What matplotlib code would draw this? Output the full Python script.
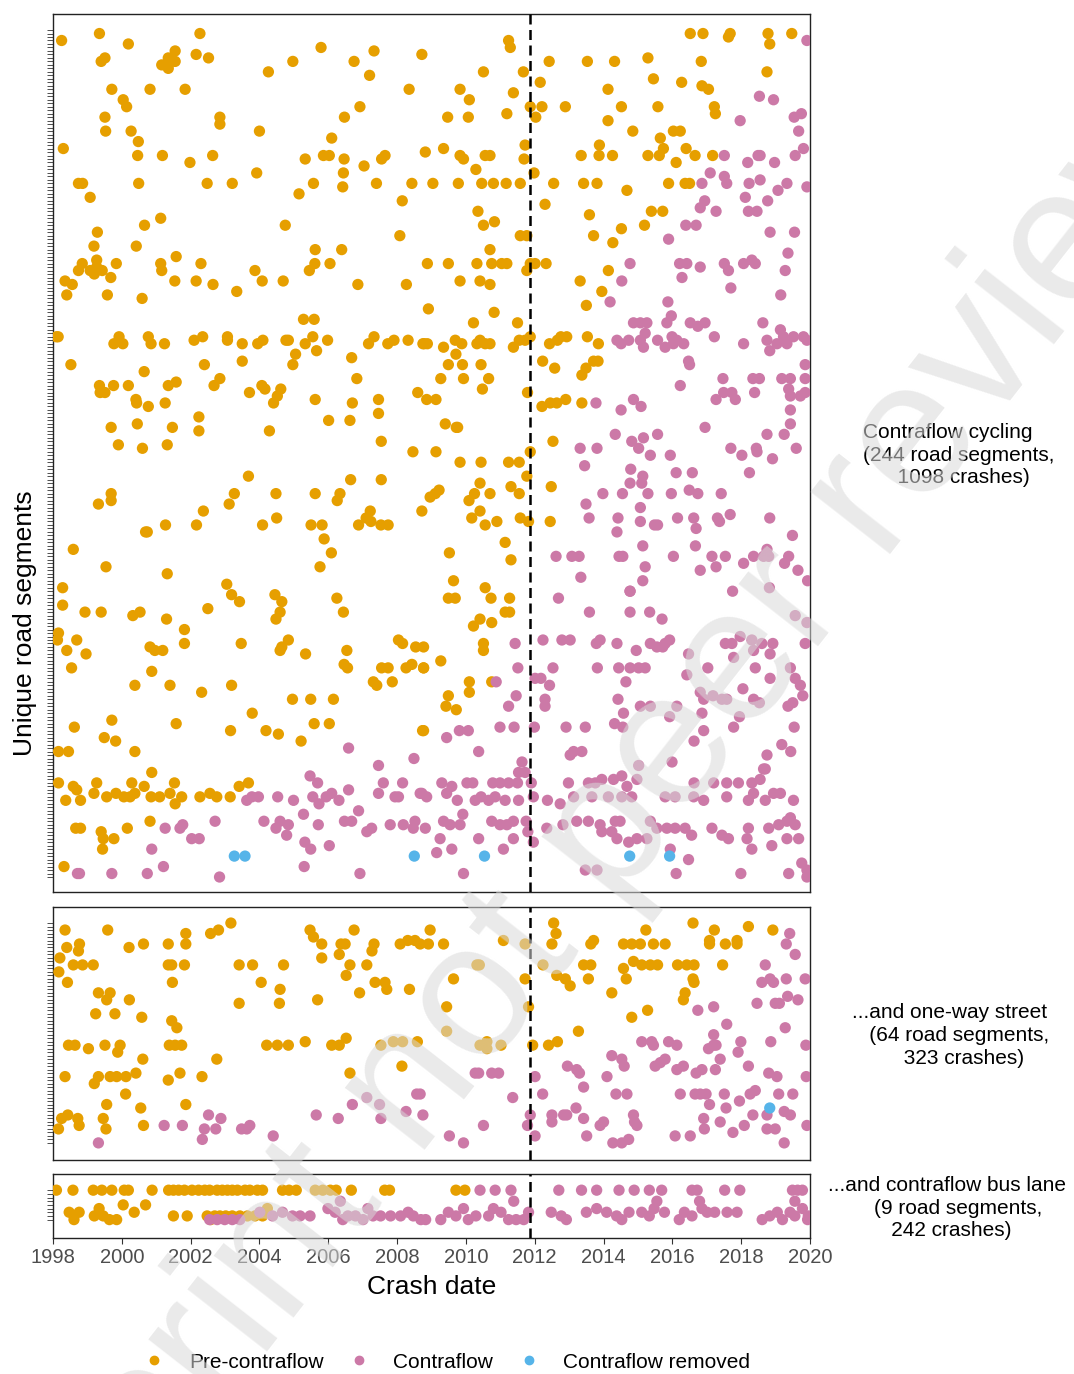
import matplotlib
matplotlib.use("Agg")
import matplotlib.pyplot as plt
from matplotlib.lines import Line2D

plt.rcParams['font.family'] = ['Liberation Sans', 'DejaVu Sans']

ORANGE = '#E69F00'
PINK = '#CC79A7'
BLUE = '#56B4E9'

change_date = 2011.85
year_ticks = list(range(1998, 2021, 2))

# (crash date in decimal years, road segment number)
top_pre = [
    (1998.25,241),(1999.35,243),(2000.19,240),(2002.27,243),(1999.40,235),(1999.51,236),(2001.16,234),(2001.35,236),
    (2001.45,235),(2001.55,238),(2001.35,233),(2001.55,235),(2002.16,237),(2002.52,236),(2004.26,232),(2004.97,235),
    (2005.79,239),(2006.75,235),(2007.33,238),(2007.20,231),(2008.35,227),(1999.71,227),(2000.82,227),(2001.84,227),
    (2000.04,224),(2000.14,222),(2002.85,219),(2002.85,217),(1999.51,219),(1999.53,215),(2000.27,215),(2004.00,215),
    (2006.47,219),(2006.92,222),(2006.10,213),(1998.30,210),(2000.48,212),(2000.46,208),(2001.18,208),(2001.98,206),
    (2002.64,208),(2005.33,207),(2005.86,208),(2006.03,208),(2006.46,207),(2006.44,203),(2007.04,205),(2007.55,207),
    (2007.65,208),(1998.74,200),(1998.86,200),(1999.08,196),(2000.49,200),(2002.48,200),(2003.21,200),(2003.92,203),
    (2005.15,197),(2005.57,200),(2006.42,199),(2007.40,200),(2008.43,200),(2008.15,195),(1999.29,186),(1999.19,182),
    (2000.66,188),(2001.13,190),(2000.42,182),(2004.75,188),(2008.08,185),(2005.62,181),(2006.39,181),(1998.85,177),
    (1998.74,175),(1999.08,175),(1999.20,174),(1999.27,178),(1999.43,175),(1999.27,176),(1999.84,177),(1999.68,173),
    (1998.35,172),(1998.56,171),(1998.40,168),(1999.58,168),(2000.59,167),(2001.13,177),(2001.16,175),(2001.58,179),
    (2001.54,172),(2002.16,172),(2002.30,177),(2002.65,171),(2003.34,169),(2003.87,175),(2004.08,172),(2004.69,172),
    (2005.45,175),(2005.61,177),(2006.05,177),(2006.86,171),(2008.27,171),
    (2008.72,237),(2011.24,241),(2011.29,239),(2010.51,232),(2011.67,232),(2012.42,235),(2013.53,235),(2014.32,235),
    (2015.29,236),(2016.84,235),(2016.52,243),(2016.89,243),(2017.68,243),(2017.63,242),(2018.78,243),(2018.83,240),
    (2019.47,243),(2018.75,232),(2012.16,229),(2009.83,227),(2011.38,226),(2010.10,224),(2010.07,219),(2009.47,219),
    (2011.19,220),(2011.87,222),(2012.21,222),(2012.03,219),(2012.89,222),(2014.13,227),(2014.52,222),(2015.45,230),
    (2015.58,222),(2016.27,229),(2016.86,228),(2017.05,227),(2017.22,222),(2017.25,220),(2014.13,218),(2014.85,215),
    (2016.03,215),(2016.23,215),(2015.65,213),(2015.74,210),(2008.82,209),(2009.35,210),(2009.83,208),(2009.93,207),
    (2010.56,208),(2010.70,208),(2010.29,204),(2011.72,211),(2011.69,207),(2011.98,203),(2013.35,208),(2013.88,211),
    (2013.87,208),(2014.26,208),(2015.29,208),(2015.62,208),(2016.40,210),(2016.11,206),(2016.66,208),(2017.17,208),
    (2009.04,200),(2009.78,200),(2010.46,200),(2010.80,200),(2011.17,200),(2011.58,200),(2012.55,200),(2013.42,200),
    (2013.81,200),(2014.68,198),(2015.89,200),(2016.37,200),(2016.50,200),(2012.30,194),(2010.35,192),(2010.51,188),
    (2010.83,189),(2013.59,191),(2013.71,185),(2014.27,183),(2014.52,187),(2015.19,188),(2015.39,192),(2015.72,192),
    (2011.58,185),(2011.77,185),(2010.70,181),(2008.88,177),(2009.49,177),(2010.32,177),(2010.75,177),(2011.04,177),
    (2011.19,177),(2011.87,177),(2012.01,177),(2012.33,177),(2011.77,175),(2009.83,172),(2010.41,172),(2010.70,171),
    (2013.32,172),(2014.14,175),(2013.95,169),
    (2005.28,161),(2005.59,161),(1998.15,156),(1998.10,156),(1999.77,154),(1999.92,156),(2000.03,154),(2000.77,156),
    (2000.85,154),(2001.24,154),(2002.10,155),(2002.35,156),(2003.07,156),(2003.07,155),(2003.50,154),(2003.95,154),
    (2004.10,155),(2004.77,155),(2004.84,155),(2005.33,154),(2005.55,156),(2005.66,152),(2005.98,155),(2005.05,151),
    (2004.97,148),(2007.17,154),(2007.33,156),(2007.73,154),(2007.91,155),(2008.32,155),(2008.75,154),(1998.52,148),
    (2000.65,146),(2002.40,148),(2003.50,149),(2006.68,150),(2006.83,144),(1999.35,142),(1999.37,140),(1999.51,140),
    (1999.76,142),(2000.19,142),(2000.41,138),(2000.43,137),(2000.77,136),(2001.26,137),(2001.35,142),(2001.58,143),
    (2002.68,142),(2002.85,144),(2003.71,140),(2004.07,142),(2004.16,141),(2004.41,137),(2004.52,139),(2004.62,141),
    (2005.62,138),(2006.70,137),(2007.46,138),(2007.46,134),(2008.60,140),(1999.69,130),(2000.45,131),(2001.47,130),
    (2002.24,133),(2002.24,129),(2004.29,129),(2006.01,132),(2006.63,132),(1999.90,125),(2000.60,124),(2001.32,125),
    (2007.54,126),(2008.46,123),(2003.68,116),(2006.65,115),(2007.54,115),(1999.32,108),(1999.69,111),(1999.69,109),
    (2002.37,106),(2003.27,111),(2003.12,108),(2004.48,111),(2005.62,111),(2006.34,111),(2006.26,109),(2000.69,100),
    (2000.74,100),(2001.27,102),(2002.17,102),(2004.09,102),(2004.50,104),(2005.50,102),(2005.82,102),(2005.88,98),
    (2006.09,94),(2005.76,90),(2006.88,102),(2007.10,104),(2007.22,106),(2007.24,103),(2007.53,102),(2007.74,102),
    (1998.59,95),(1999.54,90),(2001.32,88),(1998.28,84),(2003.05,85),
    (2008.91,164),(2010.82,163),(2010.22,160),(2011.50,160),(2013.50,165),(2008.79,154),(2008.88,154),(2009.35,153),
    (2009.69,155),(2009.88,154),(2009.71,151),(2010.32,154),(2010.41,155),(2010.56,154),(2010.70,154),(2011.38,153),
    (2011.55,155),(2011.72,155),(2011.87,156),(2012.43,154),(2012.66,155),(2012.76,156),(2012.93,156),(2013.53,156),
    (2013.85,154),(2009.49,148),(2009.90,148),(2010.44,148),(2009.27,144),(2009.93,144),(2010.66,144),(2010.48,141),
    (2012.23,149),(2012.58,147),(2013.37,145),(2013.49,147),(2013.71,149),(2013.84,149),(2008.86,138),(2009.13,138),
    (2011.79,140),(2012.21,136),(2012.45,137),(2012.64,137),(2012.90,138),(2013.37,137),(2009.40,131),(2009.76,130),
    (2009.72,130),(2009.13,123),(2009.83,120),(2010.44,120),(2011.24,120),(2011.55,120),(2011.87,123),(2011.77,116),
    (2012.53,126),(2012.48,113),(2008.96,110),(2009.11,111),(2009.22,112),(2008.72,106),(2010.41,114),(2010.25,111),
    (2010.09,109),(2010.70,111),(2011.31,113),(2011.55,111),(2010.41,106),(2010.17,104),(2010.56,102),(2010.90,103),
    (2011.58,104),(2011.82,103),(2012.45,103),(2011.14,97),(2011.31,92),(2009.52,94),(2009.64,86),(2010.56,84),
    (1998.28,79),(2003.19,82),(2003.42,80),(2004.45,82),(2004.65,80),(2004.60,77),(2004.48,75),(2006.25,81),
    (2006.44,77),(1998.93,77),(1999.40,77),(2000.32,76),(2000.53,77),(2001.30,75),(2001.82,72),(2001.82,68),
    (2002.50,78),(1998.16,71),(1998.13,69),(1998.69,69),(1998.40,66),(1998.96,65),(1998.54,61),(2000.82,67),
    (2000.96,66),(2001.19,66),(2000.87,60),(2000.38,56),(2001.40,56),(2002.32,54),(2003.47,68),(2003.19,56),
    (2004.60,66),(2004.84,69),(2004.65,67),(2005.34,65),(2006.54,66),(2006.46,62),(2006.56,61),(2008.04,69),
    (2008.16,68),(2008.54,67),(2007.55,61),(2007.74,61),(2007.86,57),(2007.31,57),(2007.41,56),(2008.26,61),
    (2008.43,62),(2008.77,61),(2004.96,52),(2005.49,52),(2006.15,52),(2003.79,48),(2004.19,43),(2004.55,42),
    (2005.21,40),(2005.59,45),(2006.03,45),(2003.16,43),(2008.74,43),(1998.62,44),(1999.71,46),(1999.49,41),
    (1999.82,40),(2001.58,45),(1998.16,37),(1998.45,37),(2000.38,37),(2000.87,31),(1998.16,28),(1998.59,27),
    (1998.69,26),(1999.27,28),(1999.19,25),(2000.29,28),(2000.65,27),(2001.53,28),(2003.68,28),(2003.41,27),
    (1998.37,23),(1998.80,23),(1999.56,24),(1999.83,25),(2000.06,24),(2000.24,24),(2000.38,25),(2000.85,24),
    (2001.10,24),(2001.40,25),(2001.55,22),(2001.74,24),(2002.27,24),(2002.56,25),(2002.76,24),(2003.15,24),
    (1998.66,15),(1998.80,15),(1999.40,14),(1999.46,12),(1999.77,12),(2000.16,15),(1999.44,9),(2000.82,17),
    (1998.32,4),
    (2009.49,81),(2009.69,81),(2010.73,81),(2011.27,81),(2011.14,77),(2011.27,77),(2010.75,74),(2010.41,75),
    (2010.22,73),(2010.51,68),(2010.51,66),(2008.77,67),(2008.77,61),(2009.27,63),(2010.10,57),(2010.10,54),
    (2010.75,57),(2009.49,53),(2009.42,50),(2009.72,49),(2008.77,43),
]

top_contra = [
    (2019.91,241),(2018.53,225),(2018.94,224),(2017.97,218),(2019.75,220),(2019.54,219),(2019.67,215),(2019.81,210),
    (2019.57,208),(2017.51,208),(2018.19,206),(2018.49,208),(2018.55,208),(2018.97,206),(2017.10,203),(2016.86,200),
    (2017.51,202),(2017.58,200),(2018.23,200),(2018.55,201),(2019.07,198),(2019.33,200),(2019.91,199),(2018.12,196),
    (2018.77,195),(2018.21,192),(2018.46,192),(2016.81,193),(2016.94,195),(2017.27,192),(2016.39,188),(2016.69,188),
    (2015.89,184),(2018.84,186),(2019.55,186),(2019.36,180),(2019.28,175),(2014.77,177),(2014.53,172),(2016.21,177),
    (2016.42,177),(2016.81,176),(2016.28,173),(2017.51,177),(2017.63,175),(2018.07,177),(2018.31,178),(2018.41,177),
    (2017.70,170),(2019.15,168),
    (2014.19,166),(2015.87,166),(2014.87,160),(2015.07,160),(2015.26,160),(2015.21,157),(2015.84,160),(2015.97,162),
    (2016.52,160),(2016.74,159),(2016.95,160),(2018.63,160),(2014.39,155),(2014.51,154),(2014.73,155),(2015.07,155),
    (2015.16,153),(2015.57,155),(2015.79,153),(2015.99,156),(2016.13,155),(2016.33,154),(2016.03,154),(2017.22,156),
    (2018.07,154),(2018.75,155),(2018.83,152),(2019.14,158),(2019.04,154),(2019.23,156),(2019.33,154),(2019.52,156),
    (2019.81,156),(2019.91,155),(2016.47,149),(2016.50,148),(2019.86,148),(2016.23,142),(2017.47,144),(2018.34,144),
    (2018.53,144),(2019.18,144),(2019.43,144),(2019.86,144),(2017.27,138),(2017.49,140),(2017.73,140),(2017.83,138),
    (2018.39,140),(2019.38,141),(2019.43,139),(2019.72,139),(2019.86,140),(2013.78,137),(2014.51,135),(2014.87,138),
    (2015.09,136),(2019.43,135),(2019.43,131),(2016.95,130),(2018.75,128),(2019.25,128),(2019.60,124),(2014.34,128),
    (2014.82,126),(2015.16,127),(2015.57,128),(2015.02,124),(2015.36,122),(2015.94,122),(2013.32,124),(2013.81,124),
    (2013.45,119),(2017.70,124),(2018.02,122),(2018.44,124),(2018.46,123),(2018.91,121),(2018.24,117),(2014.79,118),
    (2015.14,116),(2015.11,114),(2014.77,114),(2016.11,117),(2016.58,117),(2013.49,108),(2013.98,111),(2014.55,111),
    (2015.29,111),(2015.97,111),(2016.49,112),(2016.74,111),(2017.42,111),(2013.58,104),(2014.42,104),(2014.39,100),
    (2015.07,107),(2015.07,103),(2015.48,102),(2015.57,102),(2016.15,104),(2016.62,104),(2016.69,101),(2017.31,104),
    (2017.37,103),(2017.68,105),(2018.83,104),(2019.49,99),(2015.14,96),(2016.67,96),(2012.62,93),(2013.08,93),
    (2013.29,93),(2014.45,93),(2014.56,93),(2015.21,90),(2016.03,93),(2017.15,93),(2017.27,90),(2017.54,93),
    (2016.81,89),(2018.07,91),(2018.36,93),(2018.65,93),(2018.75,95),(2018.80,93),(2019.26,91),(2019.38,93),
    (2019.65,89),(2019.93,86),(2013.34,87),(2015.14,86),(2014.77,83),(2017.75,83),(2018.82,84),
    (2003.63,23),(2003.78,24),(2003.97,24),(2004.53,24),(2004.99,23),(2005.47,30),(2005.69,28),(2005.55,24),
    (2005.73,22),(2005.94,24),(2006.10,25),(2006.31,23),(2006.59,26),(2006.59,38),(2007.46,33),(2007.60,28),
    (2007.46,25),(2008.16,28),(2007.94,24),(2008.04,24),(2008.49,35),(2008.72,25),(2006.88,20),(2001.26,15),
    (2001.77,16),(2001.69,15),(2002.03,12),(2002.25,12),(2002.71,17),(2004.13,17),(2004.48,15),(2004.60,17),
    (2004.84,16),(2004.79,13),(2005.28,19),(2005.71,16),(2005.32,11),(2005.49,9),(2006.03,10),(2006.47,17),
    (2006.68,17),(2007.12,14),(2007.26,15),(2007.80,16),(2008.18,16),(2008.47,15),(2008.52,17),(2000.87,9),
    (2001.21,4),(2000.74,2),(1999.71,2),(1998.71,2),(1998.77,2),(2002.84,1),(2005.30,4),(2006.92,2),
    (2012.69,81),(2013.59,77),(2014.77,77),(2014.77,83),(2015.34,77),(2015.70,75),(2011.43,68),(2012.24,69),
    (2012.79,69),(2013.03,69),(2013.79,68),(2013.90,69),(2014.39,68),(2014.95,66),(2015.36,68),(2015.55,67),
    (2015.72,67),(2015.92,69),(2015.79,68),(2016.47,65),(2017.03,61),(2016.42,59),(2017.78,64),(2017.97,70),
    (2017.54,68),(2017.73,68),(2018.31,69),(2018.36,66),(2018.60,68),(2018.84,65),(2018.92,68),(2018.41,61),
    (2018.84,58),(2019.43,61),(2019.57,58),(2019.72,56),(2019.79,53),(2019.50,51),(2019.36,50),(2019.91,74),
    (2019.57,76),(2019.86,68),(2011.51,61),(2012.53,61),(2013.82,61),(2014.44,61),(2014.77,61),(2015.02,61),
    (2015.21,61),(2010.88,57),(2012.01,58),(2012.18,58),(2012.43,56),(2014.65,57),(2011.46,53),(2011.24,50),
    (2012.30,52),(2012.30,50),(2014.42,52),(2014.58,48),(2015.07,50),(2015.36,50),(2016.13,50),(2015.92,47),
    (2014.32,45),(2014.56,44),(2016.81,54),(2016.91,52),(2017.18,53),(2017.44,52),(2017.58,52),(2018.05,55),
    (2018.36,52),(2018.53,51),(2017.95,47),(2017.78,44),(2016.86,48),(2016.91,43),(2019.54,44),(2019.18,39),
    (2019.44,37),(2018.75,36),(2018.70,32),(2010.99,44),(2011.40,44),(2011.99,44),(2012.91,44),(2013.47,44),
    (2009.44,41),(2009.81,43),(2010.07,43),(2010.37,37),(2013.03,36),(2013.13,37),(2013.37,37),(2011.63,34),
    (2011.53,31),(2011.72,31),(2015.02,33),(2015.99,34),(2016.63,40),
    (2009.30,28),(2009.59,27),(2010.03,28),(2010.20,28),(2010.78,28),(2010.99,28),(2011.24,28),(2011.50,28),
    (2011.90,28),(2012.98,28),(2013.56,28),(2013.76,28),(2013.95,29),(2014.29,29),(2014.53,30),(2014.68,27),
    (2014.97,29),(2016.63,28),(2017.20,28),(2017.58,28),(2017.92,28),(2018.31,28),(2018.55,29),(2018.65,32),
    (2008.67,25),(2008.86,24),(2009.44,25),(2009.75,23),(2010.27,23),(2010.44,24),(2010.66,23),(2010.85,24),
    (2011.14,23),(2011.53,23),(2011.96,24),(2012.37,23),(2012.74,22),(2013.13,24),(2013.66,24),(2014.14,24),
    (2014.53,24),(2014.82,24),(2015.79,24),(2016.08,24),(2016.62,24),(2016.91,23),(2017.58,24),(2018.21,23),
    (2018.36,25),(2018.70,23),(2018.94,25),(2019.14,25),(2019.52,23),
    (2008.82,15),(2009.35,17),(2009.54,16),(2009.83,16),(2009.91,19),(2010.75,17),(2010.99,16),(2011.19,16),
    (2011.38,17),(2011.75,17),(2011.80,14),(2012.35,15),(2012.82,16),(2013.22,17),(2013.56,17),(2013.90,16),
    (2013.95,14),(2014.34,17),(2014.48,17),(2014.24,14),(2014.39,12),(2014.73,11),(2014.97,12),(2015.26,12),
    (2015.36,17),(2015.55,15),(2015.84,15),(2016.08,15),(2016.37,15),(2016.56,13),(2017.15,15),(2017.44,13),
    (2017.63,12),(2018.21,15),(2018.17,12),(2018.80,15),(2019.09,16),(2019.33,17),(2019.43,18),(2019.57,16),
    (2019.67,12),(2019.33,12),(2009.25,12),(2009.15,8),(2009.59,9),(2010.37,12),(2011.09,9),(2011.38,12),
    (2011.96,11),(2018.31,9),(2018.89,10),(2019.76,5),(2016.47,6),(2015.94,9),(2009.93,2),(2013.47,3),
    (2013.81,3),(2016.11,2),(2017.99,2),(2019.38,2),(2019.91,1),(2019.91,3),
]

top_removed = [(2003.27,7),(2003.58,7),(2008.50,7),(2010.54,7),(2014.76,7),(2015.92,7)]

mid_pre = [
    (1998.35,62),(1999.59,62),(1998.40,57),(1998.77,58),(1998.74,56),(1998.20,54),(1998.17,50),(1998.42,47),
    (1998.59,52),(1998.86,52),(1999.17,52),(2000.21,57),(2000.63,58),(2001.35,58),(2001.86,58),(2001.86,61),
    (2001.35,52),(2001.45,52),(2001.82,52),(2001.47,47),(2002.58,61),(2002.81,62),(2003.17,64),(2003.41,52),
    (2003.80,52),(2004.70,52),(2004.05,47),(2004.60,45),(2003.41,41),(2004.58,41),(2005.47,62),(2005.57,60),
    (2005.81,58),(2005.81,54),(2005.69,42),(2006.37,58),(2006.49,58),(2006.32,55),(2006.63,52),(2006.52,49),
    (2006.75,62),(2006.91,44),(2007.12,52),(2007.33,58),(2007.27,56),(2007.36,47),(2007.65,47),(2007.70,45),
    (2008.36,45),(2008.09,58),(2008.31,59),(2008.52,59),(1999.32,44),(1999.66,44),(1999.56,42),(2000.22,42),
    (1999.24,38),(1999.80,38),(2000.58,37),(2001.45,36),(2001.60,34),(1998.45,29),(1998.64,29),(1999.03,28),
    (1999.51,29),(1999.95,29),(1999.88,27),(2001.38,29),(2001.55,29),(2001.74,29),(2004.21,29),(2004.52,29),
    (2004.84,29),(2005.33,30),(2006.10,29),(2006.32,29),(2006.52,31),(2007.53,29),(2007.89,30),(2008.16,30),
    (2008.59,30),(2000.61,25),(2002.76,25),(2008.14,23),(1998.35,20),(1999.32,20),(1999.20,18),(1999.66,20),
    (1999.85,20),(2000.12,20),(2000.41,21),(2001.35,19),(2001.69,21),(2002.33,20),(2006.63,21),(2000.11,15),
    (1999.56,12),(2000.55,11),(2001.86,12),(1998.25,8),(1998.43,9),(1998.72,8),(1998.16,5),(1998.76,6),
    (1999.46,8),(1999.54,5),(2000.63,6),
    (2008.96,62),(2008.67,58),(2008.91,58),(2009.35,58),(2011.09,59),(2011.72,58),(2010.32,52),(2010.39,52),
    (2009.64,48),(2009.44,40),(2009.44,33),(2010.41,29),(2010.61,30),(2010.61,28),(2011.02,29),(2011.72,48),
    (2011.82,40),(2011.94,29),(2012.55,64),(2012.62,61),(2012.50,58),(2012.24,52),(2012.64,49),(2012.89,48),
    (2013.03,46),(2013.42,52),(2013.63,52),(2013.56,48),(2013.63,58),(2013.71,59),(2014.24,44),(2014.58,58),
    (2014.82,58),(2015.07,58),(2015.45,58),(2015.79,58),(2015.23,62),(2014.58,51),(2014.66,48),(2014.87,53),
    (2015.11,52),(2015.36,52),(2015.57,52),(2014.82,37),(2015.28,39),(2016.15,52),(2016.42,52),(2016.63,52),
    (2016.60,48),(2016.63,47),(2016.37,44),(2016.32,42),(2016.60,64),(2017.22,62),(2017.08,59),(2017.08,58),
    (2017.54,58),(2017.88,59),(2017.88,58),(2018.21,63),(2018.92,62),(2017.46,52),(2013.27,33),(2012.40,29),
    (2012.66,30),
]

mid_contra = [
    (1999.32,1),(2001.23,6),(2001.76,6),(2002.52,9),(2002.88,8),(2002.40,5),(2002.73,5),(2002.34,2),
    (2003.48,5),(2003.72,6),(2003.63,5),(2004.40,3),(2005.65,9),(2006.29,8),(2006.70,12),(2007.12,14),
    (2007.49,12),(2007.53,8),(2008.26,10),(2008.57,15),
    (2010.27,21),(2010.37,21),(2010.75,21),(2010.95,21),(2011.36,14),(2010.51,6),(2009.52,3),(2009.93,1),
    (2008.75,9),(2008.67,15),(2011.79,6),(2012.01,20),(2012.23,15),(2012.01,3),(2011.87,9),(2012.50,9),
    (2012.50,7),(2012.84,9),(2012.93,9),(2013.20,11),(2013.42,17),(2013.42,8),(2012.95,23),(2013.30,21),
    (2013.22,22),(2014.10,20),(2013.51,3),(2013.90,6),(2014.00,7),(2014.27,1),(2014.53,1),(2014.73,2),
    (2014.36,15),(2014.68,15),(2014.24,26),(2014.53,25),(2014.60,23),(2014.87,9),(2014.90,7),(2014.97,6),
    (2015.11,30),(2015.40,30),(2015.45,29),(2015.89,30),(2016.13,29),(2015.79,25),(2015.65,24),(2015.50,23),
    (2016.32,23),(2016.13,22),(2016.69,21),(2016.86,22),(2017.25,22),(2017.39,25),(2017.20,29),(2017.05,28),
    (2017.27,29),(2017.20,32),(2017.58,35),(2017.99,30),(2017.91,27),(2018.21,23),(2016.74,39),(2017.20,40),
    (2016.23,15),(2016.66,15),(2016.81,15),(2016.98,15),(2017.08,12),(2017.51,15),(2017.95,13),(2018.26,15),
    (2018.41,16),(2017.56,11),(2016.91,8),(2016.93,5),(2017.39,7),(2017.76,4),(2018.09,6),(2018.34,9),
    (2018.75,9),(2018.75,5),(2018.99,5),(2019.25,1),(2016.52,3),(2016.08,3),
    (2018.70,52),(2018.60,47),(2018.84,48),(2018.94,47),(2019.31,48),(2019.31,58),(2019.41,61),(2019.57,55),
    (2019.86,48),(2019.35,43),(2019.65,42),(2018.46,41),(2018.99,41),(2019.11,41),(2019.28,34),(2018.86,30),
    (2019.88,29),(2018.80,21),(2019.04,20),(2019.89,20),(2019.09,15),(2019.50,15),(2019.25,10),(2019.43,9),
    (2019.91,6),
]

mid_removed = [(2018.83,11)]

bus_pre = [
    (1998.10,9),(1998.58,9),(1999.17,9),(1999.42,9),(1999.71,9),(2000.07,9),(2000.19,9),(2000.88,9),
    (2001.36,9),(2001.50,9),(2001.65,9),(2001.82,9),(2002.04,9),(2002.23,9),(2002.41,9),(2002.55,9),
    (2002.77,9),(2002.92,9),(2003.07,9),(2003.21,9),(2003.36,9),(2003.58,9),(2003.72,9),(2003.94,9),
    (2004.09,9),(2004.67,9),(2004.86,9),(2005.07,9),(2005.62,9),(2005.84,9),(2006.06,9),(2006.23,9),
    (2006.67,9),(2007.64,9),(2007.78,9),(2009.71,9),(2009.97,9),
    (1998.47,3),(1998.61,1),(1998.76,3),(1999.20,2),(1999.34,4),(1999.46,2),(1999.64,1),(1999.85,1),
    (2000.04,5),(2000.36,3),(2000.69,5),(2001.50,2),(2001.90,2),(2002.48,2),(2002.58,1),(2002.70,2),
    (2002.85,2),(2003.02,2),(2003.21,2),(2003.43,2),(2003.65,2),(2003.87,2),(2004.09,2),(2004.23,4),
]

bus_contra = [
    (2010.41,9),(2010.85,9),(2011.31,9),(2012.70,9),(2013.36,9),(2013.80,9),(2014.45,9),(2014.89,9),
    (2015.33,9),(2015.69,9),(2016.57,9),(2016.72,9),(2017.52,9),(2017.96,9),(2019.49,9),(2019.64,9),
    (2019.78,9),(2006.35,6),(2011.39,6),(2015.55,6),(2016.79,6),(2019.56,6),
    (2002.55,1),(2002.77,1),(2002.99,1),(2003.21,1),(2003.43,1),(2004.01,3),(2004.38,2),(2004.67,3),
    (2004.96,2),(2005.18,2),(2005.47,2),(2005.99,4),(2006.20,3),(2006.42,1),(2006.57,2),(2006.79,2),
    (2007.01,1),(2007.15,4),(2007.30,2),(2007.52,2),(2007.81,2),(2008.10,2),(2008.32,3),(2008.47,2),
    (2008.69,1),(2008.83,1),(2009.27,1),(2009.49,3),(2009.71,2),(2009.93,4),(2010.07,1),(2010.29,2),
    (2010.66,2),(2010.80,4),(2011.02,3),(2011.24,1),(2011.46,1),(2011.68,1),(2011.82,3),(2012.48,3),
    (2012.77,2),(2012.92,1),(2013.50,3),(2013.80,4),(2014.09,3),(2014.38,2),(2014.53,1),(2014.74,3),
    (2015.11,3),(2015.33,2),(2015.47,4),(2015.77,3),(2016.20,1),(2016.35,3),(2016.57,2),(2016.86,4),
    (2017.01,3),(2017.23,3),(2017.59,3),(2017.88,3),(2018.61,1),(2018.83,2),(2019.05,3),(2019.20,1),
    (2019.42,3),(2019.56,2),(2019.78,4),(2019.93,1),(2019.95,2),
]

panels = [
    # axes rect, segments, ylim, series, label, label x (px)
    ([53/1074, 1-892/1374, 757/1074, 878/1374], 244, (-3.3, 248.6),
     [(top_pre, ORANGE), (top_contra, PINK), (top_removed, BLUE)],
     'Contraflow cycling\n(244 road segments,\n      1098 crashes)', 863),
    ([53/1074, 1-1160/1374, 757/1074, 253/1374], 64, (-3.9, 68.6),
     [(mid_pre, ORANGE), (mid_contra, PINK), (mid_removed, BLUE)],
     '...and one-way street\n   (64 road segments,\n         323 crashes)', 852),
    ([53/1074, 1-1238/1374, 757/1074, 64/1374], 9, (-4.0, 13.4),
     [(bus_pre, ORANGE), (bus_contra, PINK)],
     '...and contraflow bus lane\n        (9 road segments,\n           242 crashes)', 828),
]

fig = plt.figure(figsize=(10.74, 13.74), dpi=100)

for i, (rect, nseg, ylim, series, label, lx) in enumerate(panels):
    ax = fig.add_axes(rect)
    for pts, col in series:
        xs = [p[0] for p in pts]
        ys = [p[1] for p in pts]
        ax.scatter(xs, ys, s=66, color=col, edgecolors='none', zorder=3)
    ax.axvline(change_date, color='black', lw=1.8, linestyle=(0, (4, 2.2)), zorder=4)
    ax.set_xlim(1998, 2020)
    ax.set_ylim(*ylim)
    ax.set_yticks(range(1, nseg + 1))
    ax.set_yticklabels([])
    ax.tick_params(axis='y', length=4, width=0.6, color='#333333')
    ax.set_xticks(year_ticks)
    if i < 2:
        ax.tick_params(axis='x', length=0, labelbottom=False)
    else:
        ax.tick_params(axis='x', length=4, width=0.8, color='#333333', labelsize=14.5,
                       labelcolor='#4d4d4d', pad=3)
    for sp in ax.spines.values():
        sp.set_linewidth(1.0)
        sp.set_color('#222222')
    cy = rect[1] + rect[3] / 2 - 2/1374
    fig.text(lx/1074, cy, label, ha='left', va='center', multialignment='left',
             fontsize=15, linespacing=1.26)

fig.text(25/1074, 1-623/1374, 'Unique road segments', rotation=90, ha='center', va='center', fontsize=19)
fig.text(432/1074, 1-1287/1374, 'Crash date', ha='center', va='center', fontsize=19)

handles = [Line2D([], [], marker='o', ls='', color=c, markersize=6) for c in (ORANGE, PINK, BLUE)]
fig.legend(handles, ['Pre-contraflow', 'Contraflow', 'Contraflow removed'], loc='center',
           bbox_to_anchor=(447/1074, 1-1362/1374), ncol=3, frameon=False, fontsize=15,
           handlelength=1.0, handletextpad=1.15, columnspacing=1.2)

# preprint watermark
fig.text(624/1074, 1-814/1374, 'Preprint not peer reviewed', rotation=52, rotation_mode='anchor',
         ha='center', va='center', fontsize=138, color='#d9d9d9', alpha=0.55, zorder=10)

fig.savefig('out.png', dpi=100)
